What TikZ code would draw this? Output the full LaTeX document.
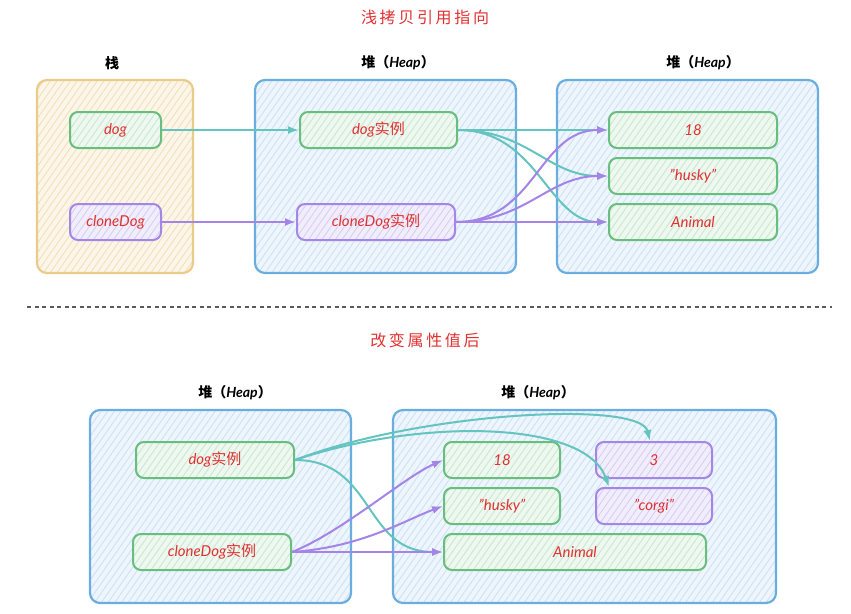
\documentclass[tikz,border=0pt]{standalone}
\usepackage{fontspec}
\setmainfont{Lato}
\newfontfamily\cjk{Noto Sans CJK SC}
\usetikzlibrary{patterns.meta,arrows.meta}
\definecolor{tred}{HTML}{E03131}
\definecolor{gstroke}{HTML}{68BE7C}
\definecolor{gfill}{HTML}{EEF8F0}
\definecolor{ghatch}{HTML}{C8E8D0}
\definecolor{pstroke}{HTML}{A386E6}
\definecolor{pfill}{HTML}{F1EEFC}
\definecolor{phatch}{HTML}{D8CDF6}
\definecolor{bstroke}{HTML}{6AAEE0}
\definecolor{bfill}{HTML}{EEF5FC}
\definecolor{bhatch}{HTML}{CDE2F5}
\definecolor{ystroke}{HTML}{EACB88}
\definecolor{yfill}{HTML}{FCF6EA}
\definecolor{yhatch}{HTML}{F2E0B8}
\definecolor{teal}{HTML}{64C4BF}
\definecolor{parrow}{HTML}{A584E8}
\begin{document}
\begin{tikzpicture}[x=1pt,y=-1pt,
  hatch/.style={pattern={Lines[angle=55,distance=5.5pt,line width=0.9pt]}},
  bigbox/.style={draw, rounded corners=10pt, line width=2.2pt, inner sep=0pt, minimum height=193pt, hatch},
  bluebox/.style={bigbox, draw=bstroke, preaction={fill=bfill}, pattern color=bhatch},
  yellowbox/.style={bigbox, draw=ystroke, preaction={fill=yfill}, pattern color=yhatch},
  item/.style={draw, rounded corners=8pt, line width=2pt, inner sep=0pt, minimum height=36pt, hatch,
    text=tred, font=\fontsize{15}{17}\selectfont\itshape},
  gitem/.style={item, draw=gstroke, preaction={fill=gfill}, pattern color=ghatch},
  pitem/.style={item, draw=pstroke, preaction={fill=pfill}, pattern color=phatch},
  title/.style={text=tred, font=\fontsize{16}{18}\selectfont\cjk},
  header/.style={text=black, font=\fontsize{14}{16}\selectfont\bfseries},
  tarrow/.style={draw=teal, line width=2pt, -{Latex[length=11pt,width=8pt]}},
  parr/.style={draw=parrow, line width=2pt, -{Latex[length=11pt,width=8pt]}}
]
\useasboundingbox (0,0) rectangle (851,613);

% ---------- top part ----------
\node[title] (t1) at (425,17) {浅\,拷\,贝\,引\,用\,指\,向};
\node[header] (h1) at (112,63) {\cjk 栈};
\node[header] (h2) at (398,63) {{\cjk 堆（}\itshape Heap{\cjk ）}};
\node[header] (h3) at (703,63) {{\cjk 堆（}\itshape Heap{\cjk ）}};

\node[yellowbox, minimum width=156pt] (stack) at (115,176.5) {};
\node[bluebox, minimum width=261pt] (heapA) at (385.5,176.5) {};
\node[bluebox, minimum width=261pt] (heapB) at (687.5,176.5) {};

\node[gitem, minimum width=91pt] (dog) at (115.5,130) {dog};
\node[pitem, minimum width=91pt] (clone) at (115.5,222) {cloneDog};
\node[gitem, minimum width=157pt] (dogi) at (378.5,130) {dog{\cjk\upshape 实例}};
\node[pitem, minimum width=158pt] (clonei) at (376,222) {cloneDog{\cjk\upshape 实例}};
\node[gitem, minimum width=168pt] (a18) at (693,130) {18};
\node[gitem, minimum width=168pt] (husky) at (693,176) {"husky"};
\node[gitem, minimum width=168pt] (animal) at (693,222) {Animal};

\draw[tarrow] (dog.east) -- (dogi.west);
\draw[tarrow] (dogi.east) -- (a18.west);
\draw[tarrow] (dogi.east) .. controls +(70,0) and +(-60,0) .. (husky.west);
\draw[tarrow] (dogi.east) .. controls +(80,0) and +(-60,0) .. (animal.west);
\draw[parr] (clone.east) -- (clonei.west);
\draw[parr] (clonei.east) .. controls +(80,0) and +(-70,0) .. (a18.west);
\draw[parr] (clonei.east) .. controls +(70,0) and +(-60,0) .. (husky.west);
\draw[parr] (clonei.east) -- (animal.west);

% ---------- separator ----------
\coordinate (sepL) at (27,307);
\coordinate (sepR) at (832,307);
\draw[draw=black!65, line width=1.6pt, dash pattern=on 4pt off 3.5pt] (sepL) -- (sepR);

% ---------- bottom part ----------
\node[title] (t2) at (425,340) {改\,变\,属\,性\,值\,后};
\node[header] (h4) at (235,393) {{\cjk 堆（}\itshape Heap{\cjk ）}};
\node[header] (h5) at (538,393) {{\cjk 堆（}\itshape Heap{\cjk ）}};

\node[bluebox, minimum width=261pt] (heapC) at (220.5,506.5) {};
\node[bluebox, minimum width=383pt] (heapD) at (584.5,506.5) {};

\node[gitem, minimum width=158pt] (bdogi) at (215,460) {dog{\cjk\upshape 实例}};
\node[gitem, minimum width=158pt] (bclonei) at (212,552) {cloneDog{\cjk\upshape 实例}};
\node[gitem, minimum width=116pt] (b18) at (502,460) {18};
\node[gitem, minimum width=116pt] (bhusky) at (502,506) {"husky"};
\node[gitem, minimum width=262pt] (banimal) at (575,552) {Animal};
\node[pitem, minimum width=116pt] (b3) at (654,460) {3};
\node[pitem, minimum width=116pt] (bcorgi) at (654,506) {"corgi"};

\draw[tarrow] (bdogi.east) .. controls (420,412) and (640,400) .. ([xshift=-4pt]b3.north);
\draw[tarrow] (bdogi.east) .. controls (420,418) and (585,420) .. ([xshift=14pt]bcorgi.north west);
\draw[tarrow] (bdogi.east) .. controls +(80,0) and +(-80,0) .. (banimal.west);
\draw[parr] (bclonei.east) .. controls +(50,-20) and +(-40,18) .. (b18.west);
\draw[parr] (bclonei.east) .. controls +(70,-5) and +(-40,15) .. (bhusky.west);
\draw[parr] (bclonei.east) -- (banimal.west);
\end{tikzpicture}
\end{document}
